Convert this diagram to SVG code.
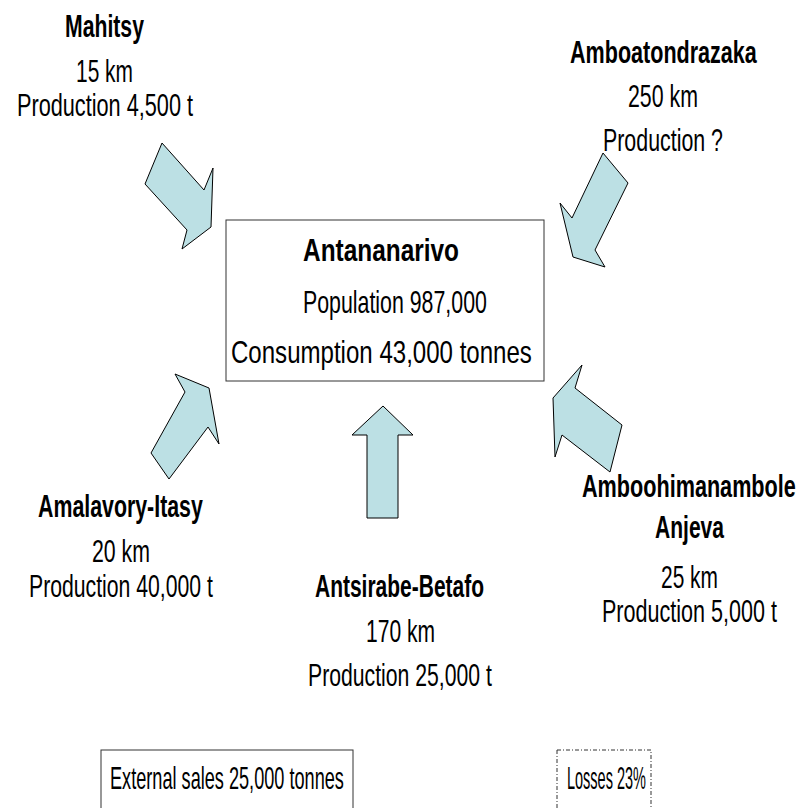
<svg xmlns="http://www.w3.org/2000/svg" width="799" height="808" viewBox="0 0 799 808">
<style>
text{font-family:"Liberation Sans",Arial,sans-serif;font-size:32px;fill:#000}
.b{font-weight:bold}
.arrow{fill:#bce0e4;stroke:#000;stroke-width:1;stroke-linejoin:miter}
.box{fill:#fff;stroke:#333;stroke-width:1}
</style>
<rect width="799" height="808" fill="#fff"/>
<g id="connectors">
<polygon class="arrow" points="162,143 204,190 213,168 211,227 182,249 187,230 145,184"/>
<polygon class="arrow" points="603,153 628,183 595,250 605,267 573,257 560,203 572,218"/>
<polygon class="arrow" points="209,388 219,444 208,427 169,479 151,453 185,392 175,374"/>
<polygon class="arrow" points="553,398 582,365 575,388 622,425 610,472 562,435 555,457"/>
<polygon class="arrow" points="383,406 413,435 398,435 398,518 367,518 367,435 352,435"/>
</g>
<g id="antananarivo">
<rect class="box" x="226" y="220" width="318" height="161"/>
<text class="b" transform="translate(303 261) scale(0.763 1)">Antananarivo</text>
<text transform="translate(303 313) scale(0.667 1)">Population 987,000</text>
<text transform="translate(231 363) scale(0.752 1)">Consumption 43,000 tonnes</text>
</g>
<g id="mahitsy">
<text class="b" transform="translate(65 37) scale(0.663 1)">Mahitsy</text>
<text transform="translate(76 82) scale(0.654 1)">15 km</text>
<text transform="translate(17 116) scale(0.678 1)">Production 4,500 t</text>
</g>
<g id="amboatondrazaka">
<text class="b" transform="translate(570 63) scale(0.674 1)">Amboatondrazaka</text>
<text transform="translate(628 107) scale(0.667 1)">250 km</text>
<text transform="translate(603 151) scale(0.668 1)">Production ?</text>
</g>
<g id="amalavory-itasy">
<text class="b" transform="translate(38 517) scale(0.667 1)">Amalavory-Itasy</text>
<text transform="translate(92 562) scale(0.666 1)">20 km</text>
<text transform="translate(29 597) scale(0.663 1)">Production 40,000 t</text>
</g>
<g id="antsirabe-betafo">
<text class="b" transform="translate(315 597) scale(0.656 1)">Antsirabe-Betafo</text>
<text transform="translate(366 642) scale(0.658 1)">170 km</text>
<text transform="translate(308 686) scale(0.663 1)">Production 25,000 t</text>
</g>
<g id="amboohimanambole-anjeva">
<text class="b" transform="translate(582 497) scale(0.676 1)">Amboohimanambole</text>
<text class="b" transform="translate(655 538) scale(0.658 1)">Anjeva</text>
<text transform="translate(661 588) scale(0.654 1)">25 km</text>
<text transform="translate(602 622) scale(0.674 1)">Production 5,000 t</text>
</g>
<g id="external-sales">
<rect class="box" x="101" y="750" width="252" height="70"/>
<text transform="translate(110 789) scale(0.567 1)">External sales 25,000 tonnes</text>
</g>
<g id="losses">
<rect x="557" y="750" width="94" height="70" fill="#fff" stroke="#333" stroke-width="1" stroke-dasharray="4 2 1 2"/>
<text transform="translate(567 789) scale(0.453 1)">Losses 23%</text>
</g>
</svg>
